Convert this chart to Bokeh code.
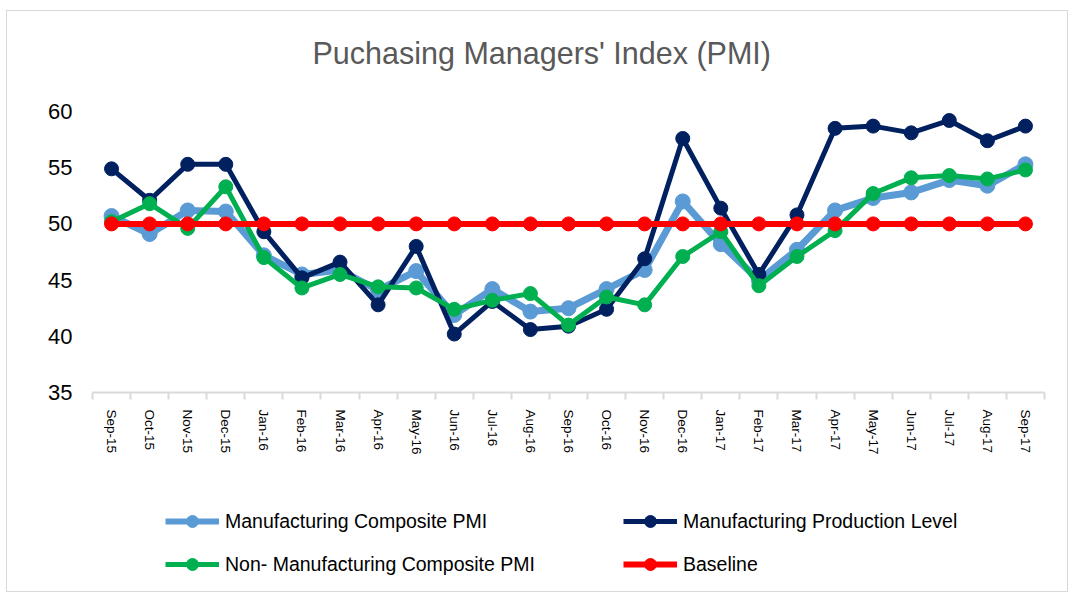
from bokeh.plotting import figure
from bokeh.layouts import column
from bokeh.models import FixedTicker, Legend, LegendItem, Range1d
from bokeh.embed import file_html
from bokeh.resources import INLINE

months = ["Sep-15", "Oct-15", "Nov-15", "Dec-15", "Jan-16", "Feb-16", "Mar-16", "Apr-16",
          "May-16", "Jun-16", "Jul-16", "Aug-16", "Sep-16", "Oct-16", "Nov-16", "Dec-16",
          "Jan-17", "Feb-17", "Mar-17", "Apr-17", "May-17", "Jun-17", "Jul-17", "Aug-17", "Sep-17"]

mfg_composite = [50.7, 49.1, 51.2, 51.1, 47.2, 45.5, 45.9, 44.1, 45.8, 41.9, 44.2, 42.2, 42.5,
                 44.2, 45.9, 52.0, 48.2, 45.0, 47.7, 51.2, 52.3, 52.8, 53.9, 53.4, 55.3]
mfg_production = [54.9, 52.1, 55.3, 55.3, 49.3, 45.2, 46.6, 42.8, 48.0, 40.2, 43.1, 40.6, 40.9,
                  42.4, 46.9, 57.6, 51.4, 45.5, 50.8, 58.5, 58.7, 58.1, 59.2, 57.4, 58.7]
non_mfg_composite = [50.2, 51.8, 49.6, 53.3, 47.0, 44.3, 45.5, 44.4, 44.3, 42.4, 43.2, 43.8, 41.0,
                     43.5, 42.8, 47.1, 49.3, 44.5, 47.1, 49.4, 52.7, 54.1, 54.3, 54.0, 54.8]
baseline = [50, 50, 50, 50, 50, 50, 50, 50, 50, 50, 50, 50, 50,
            50, 50, 50, 50, 50, 50, 50, 50, 50, 50, 50, 50]

series_names = ["Manufacturing Composite PMI", "Manufacturing Production Level",
                "Non- Manufacturing Composite PMI", "Baseline"]
title_text = "Puchasing Managers' Index (PMI)"
y_ticks = [35, 40, 45, 50, 55, 60]

x = list(range(len(months)))
W = 1060

# title strip
pt = figure(width=W, height=85, output_backend="svg", toolbar_location=None,
            x_axis_type=None, y_axis_type=None, min_border=0,
            x_range=Range1d(0, 1), y_range=Range1d(0, 1))
pt.outline_line_color = None
pt.xgrid.visible = False
pt.ygrid.visible = False
pt.title.text = title_text
pt.title.align = "left"
pt.title.offset = 220
pt.title.text_font = "Liberation Sans"
pt.title.text_font_size = "30.5px"
pt.title.text_font_style = "normal"
pt.title.text_color = "#595959"
pt.title.standoff = 45

# main chart
p = figure(width=W, height=395, output_backend="svg", toolbar_location=None, title=None,
           x_range=Range1d(-0.5, len(months) - 0.5), y_range=Range1d(35, 60),
           min_border_left=85, min_border_right=23, min_border_top=15, min_border_bottom=99)
p.outline_line_color = None
p.xgrid.visible = False
p.ygrid.visible = False

xa = p.xaxis[0]
xa.ticker = FixedTicker(ticks=x, minor_ticks=[i - 0.5 for i in range(len(months) + 1)])
xa.major_label_overrides = {i: m for i, m in enumerate(months)}
xa.major_tick_line_color = None
xa.minor_tick_line_color = "#d9d9d9"
xa.minor_tick_line_width = 2
xa.minor_tick_in = 0
xa.minor_tick_out = 7
xa.axis_line_color = "#d9d9d9"
xa.axis_line_width = 2
xa.major_label_orientation = "vertical"
xa.major_label_text_font = "Liberation Sans"
xa.major_label_text_font_size = "13.5px"
xa.major_label_text_color = "#000000"
xa.major_label_standoff = 10

ya = p.yaxis[0]
ya.ticker = FixedTicker(ticks=y_ticks)
ya.axis_line_color = None
ya.major_tick_line_color = None
ya.major_tick_out = 0
ya.major_tick_in = 0
ya.minor_tick_line_color = None
ya.major_label_text_font = "Liberation Sans"
ya.major_label_text_font_size = "22px"
ya.major_label_text_color = "#000000"
ya.major_label_standoff = 20

styles = [
    (mfg_composite, "#5B9BD5", 7, 15),
    (mfg_production, "#002060", 5, 14),
    (non_mfg_composite, "#00B050", 5, 14),
    (baseline, "#FF0000", 6, 14),
]
for vals, color, lw, sz in styles:
    p.line(x, vals, line_color=color, line_width=lw)
    p.scatter(x, vals, marker="circle", size=sz, fill_color=color, line_color=color)

# legend strip (own small figure so the legend is not clipped by the chart frame)
pl = figure(width=W, height=100, output_backend="svg", toolbar_location=None,
            x_axis_type=None, y_axis_type=None, min_border=0,
            x_range=Range1d(0, 1), y_range=Range1d(0, 1))
pl.outline_line_color = None
pl.xgrid.visible = False
pl.ygrid.visible = False
nan = float("nan")
items = []
for name, (vals, color, lw, sz) in zip(series_names, styles):
    lr = pl.line([nan], [nan], line_color=color, line_width=min(lw, 6))
    sr = pl.scatter([nan], [nan], marker="circle", size=sz, fill_color=color, line_color=color)
    items.append(LegendItem(label=name, renderers=[lr, sr]))

legend = Legend(items=items, ncols=2, orientation="horizontal", location=(73, 12),
                border_line_color=None, background_fill_alpha=0, padding=0, margin=0,
                glyph_width=54, glyph_height=30, label_standoff=6, spacing=13,
                label_width=385,
                label_text_font="Liberation Sans", label_text_font_size="19.5px",
                label_text_color="#000000", label_height=22)
pl.add_layout(legend, "center")

layout = column(pt, p, pl, spacing=0)
layout.margin = (10, 0, 0, 6)
layout.styles = {"border": "1px solid #d9d9d9"}

open("out.html", "w").write(file_html(layout, INLINE))
